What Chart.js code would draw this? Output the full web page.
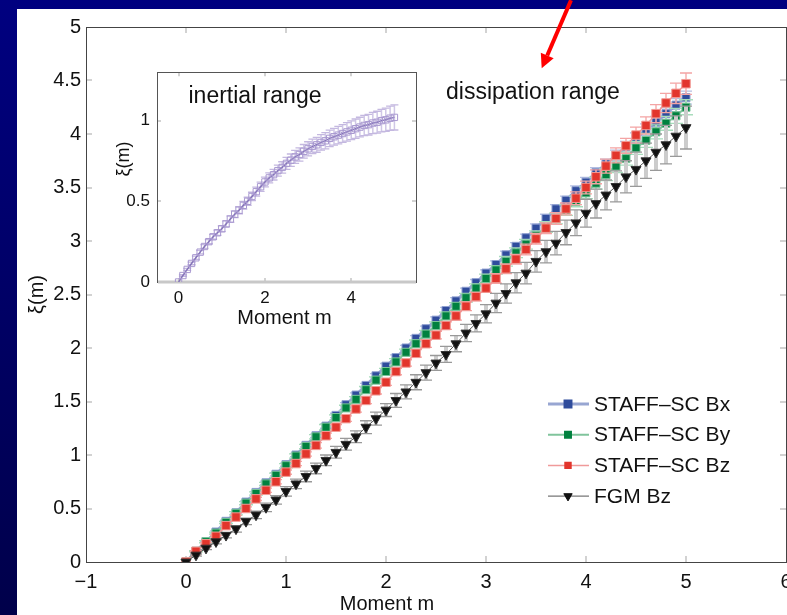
<!DOCTYPE html>
<html>
<head>
<meta charset="utf-8">
<title>Structure functions</title>
<script src="https://cdn.jsdelivr.net/npm/chart.js@4.4.1/dist/chart.umd.min.js"></script>
<style>
  html, body { margin: 0; padding: 0; width: 787px; height: 615px; overflow: hidden; background: #000070; }
  #main { position: absolute; left: 0; top: 0; }
  #inset { position: absolute; left: 100px; top: 55px; }
</style>
</head>
<body>
<canvas id="main" width="830" height="615"></canvas>
<canvas id="inset" width="330" height="280"></canvas>
<script>
// moments m, every 0.1 from 0 to 5
const moments = [0, 0.1, 0.2, 0.3, 0.4, 0.5, 0.6, 0.7, 0.8, 0.9, 1.0,
  1.1, 1.2, 1.3, 1.4, 1.5, 1.6, 1.7, 1.8, 1.9, 2.0,
  2.1, 2.2, 2.3, 2.4, 2.5, 2.6, 2.7, 2.8, 2.9, 3.0,
  3.1, 3.2, 3.3, 3.4, 3.5, 3.6, 3.7, 3.8, 3.9, 4.0,
  4.1, 4.2, 4.3, 4.4, 4.5, 4.6, 4.7, 4.8, 4.9, 5.0];

// dissipation range scaling exponents xi(m)
const staffBx = [0, 0.10, 0.19, 0.28, 0.38, 0.46, 0.56, 0.65, 0.74, 0.82, 0.91,
  1.00, 1.09, 1.18, 1.27, 1.37, 1.47, 1.56, 1.65, 1.74, 1.83,
  1.91, 2.00, 2.09, 2.18, 2.26, 2.35, 2.44, 2.53, 2.61, 2.70,
  2.78, 2.87, 2.95, 3.03, 3.12, 3.21, 3.30, 3.38, 3.47, 3.55,
  3.64, 3.72, 3.80, 3.88, 3.96, 4.04, 4.11, 4.19, 4.27, 4.34];
const staffBy = [0, 0.10, 0.19, 0.27, 0.37, 0.455, 0.55, 0.64, 0.73, 0.81, 0.90,
  0.99, 1.08, 1.17, 1.26, 1.35, 1.44, 1.52, 1.61, 1.70, 1.78,
  1.87, 1.96, 2.04, 2.13, 2.21, 2.30, 2.39, 2.47, 2.56, 2.65,
  2.73, 2.81, 2.89, 2.97, 3.05, 3.13, 3.21, 3.29, 3.37, 3.45,
  3.54, 3.62, 3.70, 3.77, 3.87, 3.94, 4.02, 4.10, 4.17, 4.25];
const staffBz = [0, 0.10, 0.17, 0.24, 0.34, 0.42, 0.50, 0.59, 0.67, 0.75, 0.84,
  0.92, 1.01, 1.09, 1.18, 1.26, 1.34, 1.43, 1.51, 1.60, 1.68,
  1.78, 1.86, 1.95, 2.04, 2.12, 2.21, 2.30, 2.39, 2.48, 2.56,
  2.65, 2.74, 2.83, 2.92, 3.02, 3.12, 3.21, 3.30, 3.40, 3.50,
  3.60, 3.70, 3.80, 3.89, 3.99, 4.08, 4.19, 4.29, 4.38, 4.47];
const fgmBz = [0, 0.065, 0.13, 0.19, 0.25, 0.31, 0.38, 0.44, 0.51, 0.58, 0.66,
  0.73, 0.80, 0.875, 0.95, 1.025, 1.10, 1.17, 1.26, 1.34, 1.42,
  1.51, 1.59, 1.68, 1.77, 1.86, 1.94, 2.04, 2.14, 2.23, 2.32,
  2.42, 2.51, 2.61, 2.70, 2.81, 2.90, 2.98, 3.08, 3.17, 3.26,
  3.35, 3.43, 3.51, 3.60, 3.67, 3.75, 3.83, 3.90, 3.98, 4.06];

// half widths of the error bars
const errBx = [0, .005, .005, .01, .01, .01, .01, .01, .015, .015, .015,
  .015, .015, .015, .02, .02, .02, .02, .02, .02, .025,
  .025, .025, .025, .025, .03, .03, .03, .03, .03, .03,
  .035, .035, .035, .035, .04, .04, .04, .04, .045, .045,
  .045, .045, .05, .05, .05, .055, .055, .055, .06, .06];
const errBy = [0, .005, .01, .01, .01, .015, .015, .015, .015, .02, .02,
  .02, .02, .02, .025, .025, .025, .025, .03, .03, .03,
  .03, .03, .035, .035, .035, .035, .035, .04, .04, .04,
  .04, .045, .045, .045, .045, .05, .05, .05, .05, .055,
  .055, .055, .06, .06, .06, .065, .065, .065, .07, .07];
const errBz = [0, .005, .01, .01, .01, .015, .015, .015, .02, .02, .02,
  .02, .02, .025, .025, .025, .025, .03, .03, .03, .03,
  .03, .03, .035, .035, .035, .035, .04, .04, .04, .04,
  .045, .045, .045, .05, .05, .05, .055, .055, .06, .06,
  .065, .065, .07, .07, .075, .08, .085, .09, .095, .10];
const errFgm = [0, .01, .015, .02, .025, .03, .03, .035, .04, .04, .045,
  .045, .05, .05, .05, .055, .055, .055, .06, .06, .06,
  .065, .065, .07, .07, .07, .075, .075, .08, .08, .085,
  .09, .09, .095, .10, .10, .105, .11, .115, .12, .13,
  .135, .14, .145, .15, .16, .165, .17, .18, .19, .20];

// inertial range exponents (inset)
const inertial = [0, .04, .078, .115, .15, .185, .22, .25, .28, .305, .33,
  .36, .39, .42, .445, .475, .50, .53, .56, .59, .62,
  .645, .665, .69, .71, .735, .755, .775, .79, .81, .825,
  .84, .85, .865, .875, .89, .90, .91, .92, .93, .94,
  .95, .96, .97, .975, .985, .99, 1.0, 1.005, 1.015, 1.02];
const errInertial = [0, .005, .006, .008, .01, .011, .012, .013, .015, .016, .018,
  .019, .02, .021, .022, .024, .025, .026, .028, .029, .03,
  .031, .033, .034, .035, .037, .038, .04, .041, .042, .044,
  .045, .046, .048, .05, .051, .052, .054, .055, .057, .058,
  .06, .061, .063, .064, .066, .068, .07, .072, .075, .078];

const seriesNames = ['STAFF\u2013SC Bx', 'STAFF\u2013SC By', 'STAFF\u2013SC Bz', 'FGM Bz'];

// tick positions and labels
const xTickValues = [-1, 0, 1, 2, 3, 4, 5, 6];
const xTickLabels = ['\u22121', '0', '1', '2', '3', '4', '5', '6'];
const yTickValues = [0, 0.5, 1, 1.5, 2, 2.5, 3, 3.5, 4, 4.5, 5];
const yTickLabels = ['0', '0.5', '1', '1.5', '2', '2.5', '3', '3.5', '4', '4.5', '5'];
const insetXTickValues = [0, 2, 4];
const insetXTickLabels = ['0', '2', '4'];
const insetYTickValues = [0, 0.5, 1];
const insetYTickLabels = ['0', '0.5', '1'];

const FONT = '"Liberation Sans", Arial, sans-serif';
const pts = ys => moments.map((m, i) => ({ x: m, y: ys[i] }));

// error bars go under each series' own markers
const errorBars = {
  id: 'errorBars',
  beforeDatasetDraw(chart, args) {
    const ds = chart.data.datasets[args.index];
    if (!ds.errors) return;
    const { ctx, scales: { x, y } } = chart;
    ctx.save();
    ds.data.forEach((p, i) => {
      const e = ds.errors[i];
      if (!e) return;
      const px = x.getPixelForValue(p.x);
      const top = y.getPixelForValue(p.y + e);
      const bot = y.getPixelForValue(p.y - e);
      ctx.strokeStyle = ds.errColor;
      ctx.lineWidth = ds.errWidth;
      ctx.beginPath(); ctx.moveTo(px, top); ctx.lineTo(px, bot); ctx.stroke();
      ctx.strokeStyle = ds.capColor;
      ctx.lineWidth = 1.3;
      ctx.beginPath();
      ctx.moveTo(px - ds.capHalf, top); ctx.lineTo(px + ds.capHalf, top);
      ctx.moveTo(px - ds.capHalf, bot); ctx.lineTo(px + ds.capHalf, bot);
      ctx.stroke();
    });
    ctx.restore();
  }
};

// box around the axes with matlab style inward ticks
const frame = {
  id: 'frame',
  beforeDatasetsDraw(chart, args, opts) {
    const { ctx, chartArea: a, scales: { x, y } } = chart;
    const L = opts.tickLen;
    ctx.save();
    ctx.strokeStyle = opts.tickColor;
    ctx.lineWidth = 1.5;
    ctx.beginPath();
    x.ticks.forEach(t => {
      const px = Math.round(x.getPixelForValue(t.value));
      if (px <= a.left + 1 || px >= a.right - 1) return;
      ctx.moveTo(px, a.bottom); ctx.lineTo(px, a.bottom - L);
      ctx.moveTo(px, a.top); ctx.lineTo(px, a.top + L);
    });
    y.ticks.forEach(t => {
      const py = Math.round(y.getPixelForValue(t.value));
      if (py <= a.top + 1 || py >= a.bottom - 1) return;
      ctx.moveTo(a.left, py); ctx.lineTo(a.left + L, py);
      ctx.moveTo(a.right, py); ctx.lineTo(a.right - L, py);
    });
    ctx.stroke();
    ctx.lineWidth = 1;
    ctx.strokeStyle = opts.lineColor;
    ctx.strokeRect(Math.round(a.left) + 0.5, Math.round(a.top) + 0.5,
      Math.round(a.right - a.left), Math.round(a.bottom - a.top));
    if (opts.baseColor) {
      ctx.strokeStyle = opts.baseColor;
      ctx.lineWidth = 3;
      ctx.beginPath(); ctx.moveTo(a.left + 1, a.bottom); ctx.lineTo(a.right, a.bottom); ctx.stroke();
    }
    ctx.restore();
  }
};

// slide background: navy band with the white figure on it
const slide = {
  id: 'slide',
  beforeDraw(chart) {
    const { ctx, width, height } = chart;
    const g = ctx.createLinearGradient(0, 0, 0, height);
    g.addColorStop(0, '#000080');
    g.addColorStop(1, '#00004a');
    ctx.save();
    ctx.fillStyle = g;
    ctx.fillRect(0, 0, width, height);
    ctx.fillStyle = '#ffffff';
    ctx.fillRect(17, 9, width - 17, height - 9);
    ctx.restore();
  }
};

// titles, the range note, legend and the arrow
const mainNotes = {
  id: 'mainNotes',
  afterDraw(chart) {
    const { ctx, chartArea: a, scales: { x, y } } = chart;
    ctx.save();
    ctx.fillStyle = '#111';
    ctx.textBaseline = 'middle';

    ctx.font = '23px ' + FONT;
    ctx.textAlign = 'left';
    ctx.fillText('dissipation range', x.getPixelForValue(2.6), y.getPixelForValue(4.39));

    ctx.font = '20px ' + FONT;
    ctx.textAlign = 'center';
    ctx.fillText('Moment m', x.getPixelForValue(2.01), a.bottom + 42);
    ctx.save();
    ctx.translate(a.left - 49, (a.top + a.bottom) / 2);
    ctx.rotate(-Math.PI / 2);
    ctx.fillText('\u03BE(m)', 0, 0);
    ctx.restore();

    // legend, bottom right inside the axes
    const lx = a.right - 238, ly = a.bottom - 158;
    ctx.font = '21px ' + FONT;
    ctx.textAlign = 'left';
    chart.data.datasets.forEach((ds, k) => {
      const row = ly + k * 30.7;
      ctx.strokeStyle = ds.borderColor;
      ctx.lineWidth = ds.borderWidth;
      ctx.beginPath(); ctx.moveTo(lx, row); ctx.lineTo(lx + 41, row); ctx.stroke();
      ctx.fillStyle = ds.pointBackgroundColor;
      ctx.strokeStyle = ds.pointBackgroundColor;
      Chart.helpers.drawPoint(ctx, {
        pointStyle: ds.pointStyle,
        rotation: ds.pointRotation || 0,
        radius: ds.pointStyle === 'triangle' ? 4.8 : 4.2,
        borderWidth: 0.5
      }, lx + 20, row);
      ctx.fillStyle = '#111';
      ctx.fillText(ds.label, lx + 46, row + 1);
    });

    // red arrow pointing at the dissipation range
    const x0 = x.getPixelForValue(3.85), y0 = y.getPixelForValue(5.25);
    const x1 = x.getPixelForValue(3.557), y1 = y.getPixelForValue(4.614);
    const ang = Math.atan2(y1 - y0, x1 - x0);
    const hl = 14, hw = 7;
    const bx = x1 - hl * Math.cos(ang), by = y1 - hl * Math.sin(ang);
    ctx.strokeStyle = '#ff0000';
    ctx.fillStyle = '#ff0000';
    ctx.lineWidth = 4;
    ctx.beginPath(); ctx.moveTo(x0, y0); ctx.lineTo(bx, by); ctx.stroke();
    ctx.beginPath();
    ctx.moveTo(x1, y1);
    ctx.lineTo(bx + hw * Math.sin(ang), by - hw * Math.cos(ang));
    ctx.lineTo(bx - hw * Math.sin(ang), by + hw * Math.cos(ang));
    ctx.closePath();
    ctx.fill();
    ctx.restore();
  }
};

const insetNotes = {
  id: 'insetNotes',
  afterDraw(chart) {
    const { ctx, chartArea: a, scales: { x, y } } = chart;
    ctx.save();
    ctx.fillStyle = '#111';
    ctx.textBaseline = 'middle';
    ctx.font = '23px ' + FONT;
    ctx.textAlign = 'left';
    ctx.fillText('inertial range', x.getPixelForValue(0.23), y.getPixelForValue(1.15));
    ctx.font = '20px ' + FONT;
    ctx.textAlign = 'center';
    ctx.fillText('Moment m', (a.left + a.right) / 2 - 2, a.bottom + 36);
    ctx.font = '18px ' + FONT;
    ctx.translate(a.left - 33, (a.top + a.bottom) / 2 - 18);
    ctx.rotate(-Math.PI / 2);
    ctx.fillText('\u03BE(m)', 0, 0);
    ctx.restore();
  }
};

function tickScale(values, labels, size, pad) {
  return {
    type: 'linear',
    afterBuildTicks: s => { s.ticks = values.map(v => ({ value: v })); },
    grid: { display: false, drawTicks: false },
    border: { display: false },
    ticks: {
      autoSkip: false, maxRotation: 0, padding: pad, color: '#111',
      font: { family: FONT, size: size },
      callback: (v, i) => labels[i]
    }
  };
}

const mainX = tickScale(xTickValues, xTickLabels, 20, 8);
Object.assign(mainX, { min: -1, max: 6, afterFit: s => { s.height = 53; } });
const mainY = tickScale(yTickValues, yTickLabels, 20, 5);
Object.assign(mainY, { min: 0, max: 5, afterFit: s => { s.width = 69; } });

new Chart(document.getElementById('main'), {
  type: 'line',
  data: {
    datasets: [
      { label: seriesNames[0], data: pts(staffBx), order: 3,
        borderColor: '#98a6d2', borderWidth: 3,
        pointStyle: 'rect', pointRadius: 5.7, pointBackgroundColor: '#2f4c9c',
        pointBorderColor: '#8f9fd0', pointBorderWidth: 1,
        errors: errBx, errColor: '#b4bfe2', errWidth: 2, capColor: '#b4bfe2', capHalf: 6 },
      { label: seriesNames[1], data: pts(staffBy), order: 2,
        borderColor: '#80c49c', borderWidth: 2,
        pointStyle: 'rect', pointRadius: 5.7, pointBackgroundColor: '#00813f',
        pointBorderColor: '#7cc49a', pointBorderWidth: 1,
        errors: errBy, errColor: '#a8dcbc', errWidth: 2, capColor: '#a8dcbc', capHalf: 7 },
      { label: seriesNames[2], data: pts(staffBz), order: 1,
        borderColor: '#f09a9a', borderWidth: 1.5,
        pointStyle: 'rect', pointRadius: 6, pointBackgroundColor: '#e2352c',
        pointBorderColor: '#f29a94', pointBorderWidth: 1,
        errors: errBz, errColor: '#f6b0b0', errWidth: 1.5, capColor: '#f4a4a4', capHalf: 6 },
      { label: seriesNames[3], data: pts(fgmBz), order: 0,
        borderColor: '#555555', borderWidth: 1,
        pointStyle: 'triangle', pointRotation: 180, pointRadius: 5.8,
        pointBackgroundColor: '#111111', pointBorderColor: '#333333', pointBorderWidth: 1,
        errors: errFgm, errColor: '#cccccc', errWidth: 4, capColor: '#999999', capHalf: 6 }
    ]
  },
  options: {
    responsive: false,
    animation: false,
    devicePixelRatio: 1,
    layout: { padding: { left: 17, top: 27, right: 44, bottom: 0 } },
    elements: { line: { tension: 0, fill: false } },
    plugins: {
      legend: { display: false },
      tooltip: { enabled: false },
      frame: { tickLen: 6, tickColor: '#c4c4c4', lineColor: '#444444' }
    },
    scales: { x: mainX, y: mainY }
  },
  plugins: [slide, frame, errorBars, mainNotes]
});

const insetX = tickScale(insetXTickValues, insetXTickLabels, 17, 6);
Object.assign(insetX, { min: -0.5, max: 5.5, afterFit: s => { s.height = 53; } });
const insetY = tickScale(insetYTickValues, insetYTickLabels, 17, 7);
Object.assign(insetY, { min: 0, max: 1.3, afterFit: s => { s.width = 57; } });

new Chart(document.getElementById('inset'), {
  type: 'line',
  data: {
    datasets: [
      { label: 'inertial', data: pts(inertial),
        borderColor: '#8574b8', borderWidth: 1.5,
        pointStyle: 'rect', pointRadius: 4.5, pointBackgroundColor: 'rgba(255,255,255,0)',
        pointBorderColor: '#a898d0', pointBorderWidth: 1,
        errors: errInertial, errColor: '#cfc6e6', errWidth: 1.5, capColor: '#c4b8e0', capHalf: 4 }
    ]
  },
  options: {
    responsive: false,
    animation: false,
    devicePixelRatio: 1,
    layout: { padding: { left: 0, top: 13, right: 14, bottom: 0 } },
    elements: { line: { tension: 0, fill: false } },
    plugins: {
      legend: { display: false },
      tooltip: { enabled: false },
      frame: { tickLen: 4, tickColor: '#c4c4c4', lineColor: '#555555', baseColor: '#c8c8c8' }
    },
    scales: { x: insetX, y: insetY }
  },
  plugins: [frame, errorBars, insetNotes]
});
</script>
</body>
</html>
